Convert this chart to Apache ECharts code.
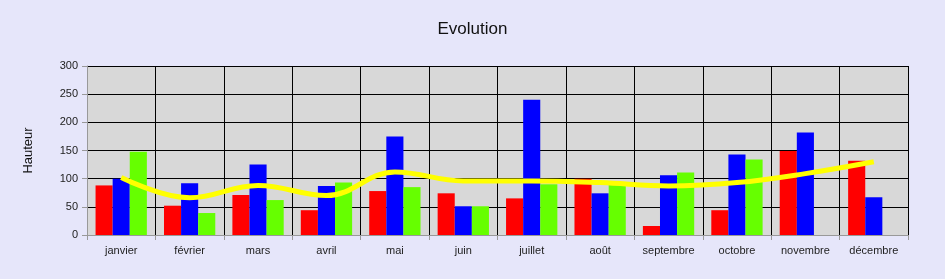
<!DOCTYPE html>
<html>
<head>
<meta charset="utf-8">
<script src="https://cdn.jsdelivr.net/npm/echarts@6/dist/echarts.min.js"></script>
<style>
html,body{margin:0;padding:0;background:#E6E6FA;}
#c{width:945px;height:279px;}
</style>
</head>
<body>
<div id="c"></div>
<script>
var categories = ['janvier','février','mars','avril','mai','juin','juillet','août','septembre','octobre','novembre','décembre'];
var seriesRed = [88, 52, 71, 44, 78, 74, 65, 100, 16, 44, 149, 132];
var seriesBlue = [100, 92, 125, 87, 175, 51, 240, 74, 106, 143, 182, 67];
var seriesGreen = [148, 39, 62, 93, 85, 51, 90, 89, 111, 134, 0, 0];
var seriesLine = [102, 66, 88, 70, 112, 96, 96, 93, 87, 93, 109, 130];
var yTicks = [0, 50, 100, 150, 200, 250, 300];

var chart = echarts.init(document.getElementById('c'), null, {renderer:'canvas'});
var font = 'Arial, "Liberation Sans", sans-serif';
chart.setOption({
  backgroundColor: '#E6E6FA',
  animation: false,
  title: {
    text: 'Evolution', left: 'center', top: 16,
    textStyle: {fontFamily: font, fontSize: 17, fontWeight: 'normal', color: '#111'}
  },
  grid: {left: 87, right: 37, top: 66, bottom: 44, show: true, backgroundColor: '#D8D8D8', borderWidth: 0},
  xAxis: {
    type: 'category', data: categories, boundaryGap: true,
    axisLine: {lineStyle: {color: '#999', width: 1}},
    axisTick: {show: true, length: 5, lineStyle: {color: '#999'}},
    splitLine: {show: true, lineStyle: {color: '#000', width: 1}},
    axisLabel: {fontFamily: font, fontSize: 11, color: '#222', margin: 10}
  },
  yAxis: {
    type: 'value', min: yTicks[0], max: yTicks[yTicks.length-1], interval: 50,
    name: 'Hauteur', nameLocation: 'middle', nameGap: 52,
    nameTextStyle: {fontFamily: font, fontSize: 13, color: '#111'},
    axisLine: {show: true, lineStyle: {color: '#999'}},
    axisTick: {show: true, length: 5, lineStyle: {color: '#999'}},
    splitLine: {show: true, lineStyle: {color: '#000', width: 1}},
    axisLabel: {fontFamily: font, fontSize: 11, color: '#222', margin: 9}
  },
  series: [
    {type: 'bar', data: seriesRed, itemStyle: {color: '#FF0000'}, barGap: '0%', barCategoryGap: '25%'},
    {type: 'bar', data: seriesBlue, itemStyle: {color: '#0000FF'}, barGap: '0%', barCategoryGap: '25%'},
    {type: 'bar', data: seriesGreen, itemStyle: {color: '#66FF00'}, barGap: '0%', barCategoryGap: '25%'},
    {type: 'line', data: seriesLine, smooth: 0.4, showSymbol: false, symbol: 'none',
     lineStyle: {color: '#FFFF00', width: 5}, z: 5}
  ]
});
</script>
</body>
</html>
